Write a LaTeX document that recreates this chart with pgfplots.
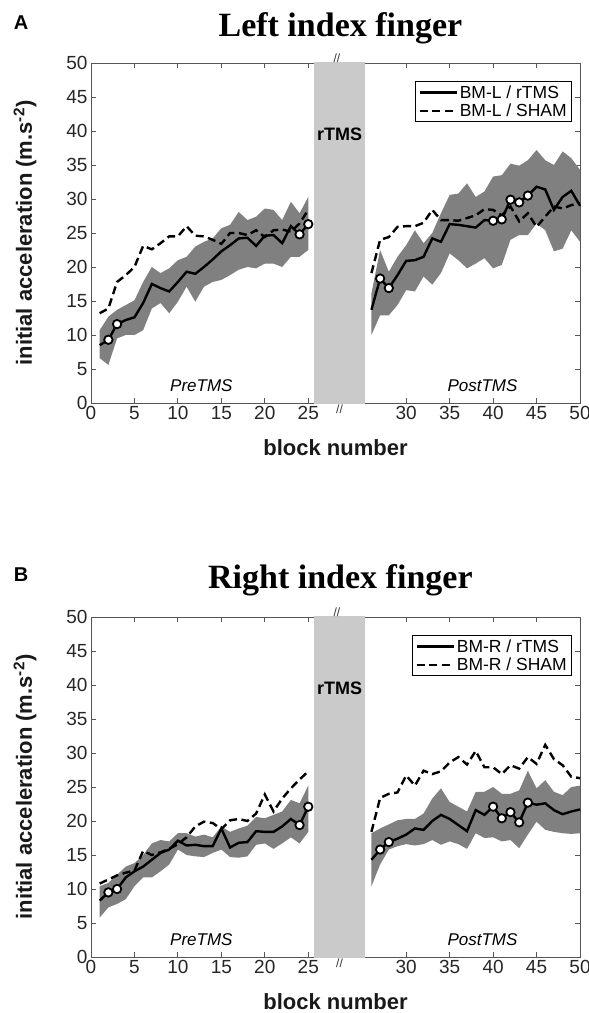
\documentclass[border=0pt]{standalone}
\usepackage{pgfplots}
\pgfplotsset{compat=1.18}
\usepackage{pgfplotstable}
\usepgfplotslibrary{fillbetween}
\usepackage{fontspec}
\setmainfont{Liberation Sans}
\newfontfamily\titlefont{Liberation Serif}

\definecolor{bandgray}{RGB}{202,202,202}
\definecolor{segray}{RGB}{128,128,128}
\definecolor{axgray}{RGB}{85,85,85}

% b = block number, m = BM/rTMS mean, s = BM/SHAM mean, u/l = rTMS band limits
\pgfplotstableread{
b m s u l
1 8.5 13.2 10.7 6.6
2 9.3 13.9 12.7 5.6
3 11.6 17.8 13.7 9.5
4 12.2 18.8 14.4 10.0
5 12.6 20.0 15.1 10.0
6 14.7 23.1 17.8 10.7
7 17.5 22.6 20.0 13.9
8 16.9 23.5 19.1 14.7
9 16.4 24.5 19.8 13.2
10 17.8 24.5 21.0 14.9
11 19.3 26.0 21.5 17.1
12 19.0 24.6 23.0 14.9
13 20.0 24.5 23.7 17.1
14 21.1 24.0 24.2 17.8
15 22.3 23.4 25.7 18.1
16 23.2 25.0 26.2 18.8
17 24.2 25.0 28.1 19.6
18 24.3 24.7 26.9 20.0
19 23.1 25.4 27.4 19.8
20 24.6 24.4 28.6 20.5
21 24.7 25.4 28.4 20.5
22 23.5 25.5 26.9 20.0
23 26.0 25.2 29.6 21.5
24 24.8 26.4 27.9 21.5
25 26.3 28.4 30.3 22.5
}\preA
\pgfplotstableread{
b m s u l
26 13.7 19.1 16.1 10.0
27 18.3 24.0 22.5 12.9
28 16.9 24.4 19.3 12.9
29 18.8 25.9 21.5 14.4
30 20.9 26.0 23.2 16.6
31 21.0 26.0 25.4 16.4
32 21.5 26.5 23.5 18.6
33 24.2 28.4 25.0 17.4
34 23.7 26.9 27.9 19.1
35 26.3 26.9 30.6 22.0
36 26.2 26.8 30.8 21.0
37 26.0 27.2 32.3 19.8
38 25.8 27.6 30.3 20.5
39 26.9 28.5 31.1 21.3
40 26.8 28.4 33.3 19.8
41 27.0 27.6 33.5 20.3
42 29.9 28.9 35.2 24.0
43 29.5 26.7 34.9 24.7
44 30.5 27.9 35.7 24.7
45 31.8 25.9 37.2 26.4
46 31.4 27.4 35.7 25.4
47 28.4 28.9 35.0 22.3
48 30.3 28.6 37.0 22.7
49 31.2 29.1 36.0 25.4
50 29.0 29.4 34.3 23.7
}\postA
\pgfplotstableread{
b m s u l
1 8.3 10.8 10.4 5.8
2 9.5 11.4 10.9 7.3
3 10.0 12.0 12.1 7.8
4 11.7 12.4 13.3 8.5
5 12.6 12.7 13.8 10.4
6 13.3 15.6 15.0 11.7
7 14.3 15.0 16.7 11.7
8 15.3 15.4 17.2 12.6
9 15.8 15.9 17.0 13.6
10 17.1 16.6 18.2 15.8
11 16.4 17.6 18.2 15.0
12 16.5 19.2 17.7 14.8
13 16.3 19.9 18.0 14.7
14 16.3 19.7 17.6 15.3
15 18.9 18.8 19.2 15.8
16 16.1 20.1 18.4 14.7
17 16.8 20.3 18.9 14.6
18 16.9 20.0 19.3 14.8
19 18.5 21.1 20.6 16.5
20 18.4 23.9 20.4 16.7
21 18.4 21.4 20.9 15.9
22 19.2 23.3 21.4 16.7
23 20.3 24.8 23.1 17.6
24 19.4 26.1 22.6 16.7
25 22.1 27.3 25.2 18.4
}\preB
\pgfplotstableread{
b m s u l
26 14.3 18.4 18.2 10.4
27 15.8 23.4 18.9 13.6
28 16.9 24.0 19.5 15.8
29 17.4 24.2 20.1 16.3
30 18.0 26.7 20.3 16.6
31 18.9 25.2 20.3 16.4
32 18.7 27.4 21.1 16.6
33 20.0 26.9 23.3 17.2
34 20.9 27.3 24.8 16.5
35 20.3 28.6 22.8 17.0
36 19.4 29.4 22.1 16.6
37 18.5 28.3 21.4 15.9
38 21.6 30.3 24.3 18.2
39 20.9 27.9 24.3 17.5
40 22.1 27.9 25.0 17.6
41 20.4 26.9 24.0 17.0
42 21.3 28.2 24.0 17.2
43 19.8 27.7 24.5 16.0
44 22.7 29.4 27.4 18.0
45 22.4 28.4 24.8 19.9
46 22.6 31.2 26.0 18.7
47 21.6 29.1 24.3 18.4
48 21.0 28.2 23.8 18.2
49 21.4 26.5 25.0 18.1
50 21.7 26.3 25.2 18.2
}\postB

\pgfplotsset{
  panel/.style={
    scale only axis, width=489bp, height=340bp,
    xmin=0, xmax=56.27, ymin=0, ymax=50,
    xtick={0,5,10,15,20,25,36.27,41.27,46.27,51.27,56.27},
    xticklabels={0,5,10,15,20,25,30,35,40,45,50},
    ytick={0,5,...,50},
    tick align=inside, major tick length=5bp,
    axis line style={axgray, line width=0.9bp},
    tick style={axgray, line width=0.9bp},
    tick label style={font=\fontsize{19bp}{19bp}\selectfont, text=black!85},
    /pgf/number format/assume math mode=true,
    clip=false,
    xlabel={block number},
    ylabel={initial acceleration (m.s\textsuperscript{-2})},
    label style={font=\bfseries\fontsize{22bp}{22bp}\selectfont, text=black!90},
    xlabel style={at={(axis description cs:0.5,-0.13)}, anchor=center},
    ylabel style={at={(axis description cs:-0.135,0.5)}, anchor=center},
    legend style={at={(0.984,0.947)}, anchor=north east, draw=black,
      line width=0.9bp, fill=white, font=\fontsize{17.5bp}{21bp}\selectfont,
      inner xsep=3bp, inner ysep=2bp, cells={anchor=west}},
    legend image code/.code={\draw[#1] (0bp,0bp) -- (37bp,0bp);},
  },
  meanline/.style={black, line width=2.4bp},
  shamline/.style={black, line width=2.4bp, dash pattern=on 8bp off 4.5bp},
  sigmark/.style={only marks, mark=*, mark size=4.2bp,
    mark options={fill=white, draw=black, line width=1.8bp, solid}},
}

\begin{document}
\begin{tikzpicture}

% ---------------- Panel A ----------------
\begin{axis}[panel, at={(91bp,610bp)}, anchor=south west]
\fill[bandgray] (axis cs:25.66,-0.15) rectangle (axis cs:31.53,50.15);
\addplot[name path=aU, draw=none, forget plot] table[x=b, y=u] {\preA};
\addplot[name path=aL, draw=none, forget plot] table[x=b, y=l] {\preA};
\addplot[segray, draw=none, forget plot] fill between[of=aU and aL];
\addplot[name path=aU2, draw=none, forget plot] table[x expr=\thisrow{b}+6.27, y=u] {\postA};
\addplot[name path=aL2, draw=none, forget plot] table[x expr=\thisrow{b}+6.27, y=l] {\postA};
\addplot[segray, draw=none, forget plot] fill between[of=aU2 and aL2];
\addplot[meanline] table[x=b, y=m] {\preA};
\addlegendentry{BM-L / rTMS}
\addplot[shamline] table[x=b, y=s] {\preA};
\addlegendentry{BM-L / SHAM}
\addplot[meanline, forget plot] table[x expr=\thisrow{b}+6.27, y=m] {\postA};
\addplot[shamline, forget plot] table[x expr=\thisrow{b}+6.27, y=s] {\postA};
\addplot[sigmark, forget plot] coordinates {(2,9.3) (3,11.6) (24,24.8) (25,26.3)};
\addplot[sigmark, forget plot] coordinates {(33.27,18.3) (34.27,16.9) (46.27,26.8) (47.27,27.0) (48.27,29.9) (49.27,29.5) (50.27,30.5)};
\node[anchor=base, font=\titlefont\bfseries\fontsize{34bp}{34bp}\selectfont] at (rel axis cs:0.51,1.077) {Left index finger};
\node[font=\bfseries\fontsize{20bp}{20bp}\selectfont] at (rel axis cs:-0.143,1.12) {A};
\node[font=\bfseries\fontsize{18bp}{18bp}\selectfont] at (axis cs:28.6,39.5) {rTMS};
\node[font=\itshape\fontsize{17bp}{17bp}\selectfont] at (axis cs:12.7,2.6) {PreTMS};
\node[font=\itshape\fontsize{17bp}{17bp}\selectfont] at (axis cs:45.05,2.6) {PostTMS};
\node[font=\fontsize{12bp}{12bp}\selectfont, text=black!80] at (axis cs:28.6,-0.9) {//};
\node[font=\fontsize{12bp}{12bp}\selectfont, text=black!80] at (axis cs:28.3,50.7) {//};
\end{axis}

% ---------------- Panel B ----------------
\begin{axis}[panel, at={(91bp,56bp)}, anchor=south west]
\fill[bandgray] (axis cs:25.66,-0.15) rectangle (axis cs:31.53,50.15);
\addplot[name path=bU, draw=none, forget plot] table[x=b, y=u] {\preB};
\addplot[name path=bL, draw=none, forget plot] table[x=b, y=l] {\preB};
\addplot[segray, draw=none, forget plot] fill between[of=bU and bL];
\addplot[name path=bU2, draw=none, forget plot] table[x expr=\thisrow{b}+6.27, y=u] {\postB};
\addplot[name path=bL2, draw=none, forget plot] table[x expr=\thisrow{b}+6.27, y=l] {\postB};
\addplot[segray, draw=none, forget plot] fill between[of=bU2 and bL2];
\addplot[meanline] table[x=b, y=m] {\preB};
\addlegendentry{BM-R / rTMS}
\addplot[shamline] table[x=b, y=s] {\preB};
\addlegendentry{BM-R / SHAM}
\addplot[meanline, forget plot] table[x expr=\thisrow{b}+6.27, y=m] {\postB};
\addplot[shamline, forget plot] table[x expr=\thisrow{b}+6.27, y=s] {\postB};
\addplot[sigmark, forget plot] coordinates {(2,9.5) (3,10.0) (24,19.4) (25,22.1)};
\addplot[sigmark, forget plot] coordinates {(33.27,15.8) (34.27,16.9) (46.27,22.1) (47.27,20.4) (48.27,21.3) (49.27,19.8) (50.27,22.7)};
\node[anchor=base, font=\titlefont\bfseries\fontsize{34bp}{34bp}\selectfont] at (rel axis cs:0.51,1.085) {Right index finger};
\node[font=\bfseries\fontsize{20bp}{20bp}\selectfont] at (rel axis cs:-0.143,1.125) {B};
\node[font=\bfseries\fontsize{18bp}{18bp}\selectfont] at (axis cs:28.6,39.5) {rTMS};
\node[font=\itshape\fontsize{17bp}{17bp}\selectfont] at (axis cs:12.7,2.6) {PreTMS};
\node[font=\itshape\fontsize{17bp}{17bp}\selectfont] at (axis cs:45.05,2.6) {PostTMS};
\node[font=\fontsize{12bp}{12bp}\selectfont, text=black!80] at (axis cs:28.6,-0.9) {//};
\node[font=\fontsize{12bp}{12bp}\selectfont, text=black!80] at (axis cs:28.3,50.7) {//};
\end{axis}

\pgfresetboundingbox
\path[use as bounding box] (0,0) rectangle (589bp,1013bp);
\end{tikzpicture}
\end{document}
